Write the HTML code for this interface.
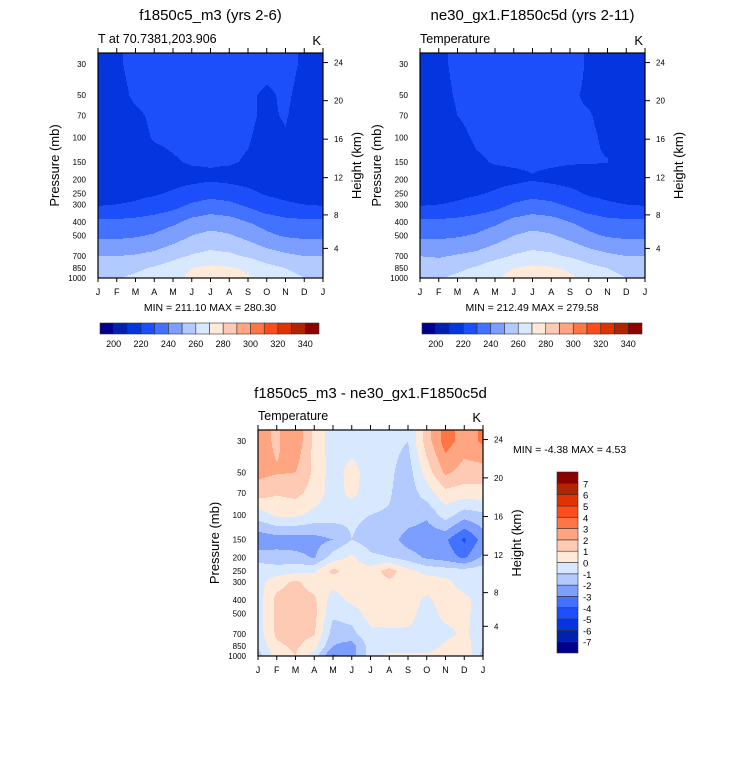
<!DOCTYPE html>
<html><head><meta charset="utf-8">
<style>
html,body{margin:0;padding:0;background:#fff;}
svg{display:block;font-family:"Liberation Sans",Arial,sans-serif;}
</style></head>
<body>
<svg id="fig" width="733" height="766" viewBox="0 0 733 766" xmlns="http://www.w3.org/2000/svg"></svg>
<script>
const months = ["J","F","M","A","M","J","J","A","S","O","N","D","J"];
const pressureLevels = [30,50,70,100,150,200,250,300,400,500,700,850,1000];
const pressureTicks = [30,50,70,100,150,200,250,300,400,500,700,850,1000];
const heightTicks = [24,20,16,12,8,4];
const tempLevels = [200,210,220,230,240,250,260,270,280,290,300,310,320,330,340];
const tempBarLabels = [200,220,240,260,280,300,320,340];
const diffLevels = [-7,-6,-5,-4,-3,-2,-1,0,1,2,3,4,5,6,7];
const palette = ["#00008c","#0020b0","#0535de","#1c4ffa","#4272ff","#7c9fff","#b2caff","#d8e9ff","#ffe9d8","#ffcab3","#ffa582","#ff7646","#ff4c1c","#e03400","#b02500","#8c0000"];

const tempModel = [
[216,219,222,223,223,224,224,224,223,222,222,219,216],
[216,218,221,222,222,222,222,222,221,219,221,218,216],
[215,217,219,221,222,222,222,222,221,219,220.5,217,215],
[214,216,218,220.5,221,221,221,221,220.5,218,219.5,216,214],
[214,215,217,218,219.5,220.5,220.5,220.5,219.5,217,216,215,214],
[213,214,215,216,217,218,219,218,217,216,215,214,213],
[217,217,218,219,221,224,226,225,222,219,218,217,217],
[219,220,221,223,226,231,234,232,228,223,221,220,219],
[232,232,233,235,238,243,245,244,240,236,233,232,232],
[238,238,239,241,245,250,253,251,247,242,239,238,238],
[250,250,251,253,257,261,263,262,259,255,252,250,250],
[256,256,258,261,265,270,272,271,268,263,260,257,256],
[259,259,262,265,268,272,278,276,271,267,263,260,259]];

const tempObs = [
[216,218,222,223,223,224,225,224,223,219,216,216,216],
[215,217,221,222,222,222,222,222,221,219,217,216,215],
[215,216,220,222,222,222,222,222,221,220.5,218,216,215],
[214,215,218,221,221.5,221.5,221.5,221.5,221,221,219,216,214],
[214,215,216,219,220.5,221,221,221,220.5,220.5,220.2,216,214],
[213,214,215,216,217,218,219.5,218,217,216,215,214,213],
[217,217,218,219,221,224,226,225,222,219,218,217,217],
[219,220,221,223,226,231,234,232,228,223,221,220,219],
[232,232,233,235,238,243,245,244,240,236,233,232,232],
[238,238,239,241,245,250,253,251,247,242,239,238,238],
[250,249,251,253,257,261,263,262,259,255,252,250,250],
[256,256,258,261,266,270,272,271,268,263,260,257,256],
[259,259,262,265,269,273,278,276,272,267,263,260,259]];

const tempDiff = [
[2.5,1.8,2.8,0.7,-0.5,-0.5,-0.6,-0.7,-1.0,1.5,3.5,2.5,3.2],
[2.3,2.1,2.0,0.8,-0.5,0.4,-0.5,-0.8,-1.5,0.5,2.2,1.6,1.5],
[1.5,1.1,1.3,0.6,-0.5,0.3,-0.6,-0.9,-1.6,-0.5,0.7,0.5,0.6],
[-0.5,0.2,0.2,-0.3,-0.5,-0.8,-1.0,-1.1,-1.4,-1.8,-0.5,-1.5,-1.2],
[-2.7,-2.5,-2.5,-2.4,-2.0,-1.0,-1.5,-1.5,-2.5,-2.7,-2.8,-4.2,-2.6],
[-1.5,-1.6,-1.7,-2.1,-0.5,0.2,-0.8,-1.0,-1.5,-2.2,-2.5,-3.2,-1.8],
[-0.3,-0.5,-0.3,-0.1,1.3,0.5,0.4,1.5,0.3,-0.3,-0.5,-0.6,-0.4],
[-0.4,0.6,1.2,0.5,0.4,0.5,0.5,0.8,0.6,0.5,0.3,-0.5,-0.5],
[-0.5,1.3,1.5,1.2,-0.5,0.3,0.5,0.6,0.5,-0.2,0.5,0.3,-0.5],
[-0.5,1.3,1.5,1.3,-0.8,-0.6,0.5,0.5,0.4,-0.5,0.3,0.3,-0.6],
[-0.5,1.2,1.4,1.1,-1.5,-1.3,-0.3,-0.2,-0.2,-0.4,-0.3,0.2,-0.6],
[-0.8,0.8,1.2,0.4,-2.0,-2.5,-0.5,-0.4,-0.3,-0.5,0.2,0.6,-1.0],
[-1.5,0.5,1.0,-0.5,-3.2,-2.5,-0.5,0.2,0.1,0.2,0.5,1.0,-1.5]];

const NS = "http://www.w3.org/2000/svg";
const svg = document.getElementById("fig");
function el(tag, attrs, parent, txt){
  const e = document.createElementNS(NS, tag);
  for (const k in attrs) e.setAttribute(k, attrs[k]);
  if (txt !== undefined) e.textContent = txt;
  (parent||svg).appendChild(e);
  return e;
}
function zToP(z){
  if (z <= 11) return 1013.25*Math.pow(1-6.5*z/288.15,5.2559);
  if (z <= 20) return 226.32*Math.exp(-(z-11)/6.3416);
  return 54.75*Math.pow(1+(z-20)/216.65,-34.163);
}
function colorIndex(v, levels){ let i=0; while(i<levels.length && v>=levels[i]) i++; return i; }

function drawPanel(cfg){
  const g = el("g",{},svg);
  
  
  const {x0,x1,y0,y1,y30,b} = cfg;
  const yOfP = p => y30 + b*Math.log(p/30);
  const xOfM = m => x0 + (x1-x0)*m/12;
  const lnL = pressureLevels.map(p=>Math.log(p));
  const field = el("g",{"shape-rendering":"crispEdges"},g);
  
  
  const data = cfg.data;
  for (let y=y0; y<y1; y++){
    let lp = Math.log(30) + (y+0.5-y30)/b;
    lp = Math.max(lnL[0], Math.min(lnL[lnL.length-1], lp));
    let k=0; while(k<lnL.length-2 && lp>lnL[k+1]) k++;
    const t = (lp-lnL[k])/(lnL[k+1]-lnL[k]);
    let runStart = x0, runC = -1;
    for (let x=x0; x<=x1; x++){
      let c = -2;
      if (x<x1){
        const m = (x+0.5-x0)/(x1-x0)*12;
        let j = Math.min(11, Math.floor(m)); const s = m-j;
        const v = (1-t)*((1-s)*data[k][j]+s*data[k][j+1]) + t*((1-s)*data[k+1][j]+s*data[k+1][j+1]);
        c = colorIndex(v, cfg.levels);
      }
      if (c!==runC){
        if (runC>=0){
          const r = el("rect",{x:runStart,y:y,width:x-runStart,height:1,fill:palette[runC]},field);
          
          
        }
        runStart = x; runC = c;
      }
    }
  }
  const fr = el("rect",{x:x0,y:y0,width:x1-x0,height:y1-y0,fill:"none",stroke:"#000","stroke-width":1.2},g);
   
  months.forEach((mn,i)=>{
    const x = xOfM(i);
    el("line",{x1:x,y1:y0,x2:x,y2:y0-5,stroke:"#000","stroke-width":1},g);
    el("line",{x1:x,y1:y1,x2:x,y2:y1+4,stroke:"#000","stroke-width":1},g);
    const t = el("text",{x:x,y:y1+17,"font-size":9,"text-anchor":"middle"},g,mn);
     
  });
  pressureTicks.forEach(p=>{
    const t = el("text",{x:x0-12,y:yOfP(p)+3,"font-size":8,"text-anchor":"end"},g,String(p));
     
  });
  heightTicks.forEach(z=>{
    const y = yOfP(zToP(z));
    el("line",{x1:x1,y1:y,x2:x1+5,y2:y,stroke:"#000","stroke-width":1},g);
    const t = el("text",{x:x1+11,y:y+3,"font-size":8},g,String(z));
     
  });
  const yl = el("text",{x:0,y:0,"font-size":13,"text-anchor":"middle",transform:`translate(${x0-39},${(y0+y1)/2}) rotate(-90)`},g,"Pressure (mb)");
   
  const hl = el("text",{x:0,y:0,"font-size":13,"text-anchor":"middle",transform:`translate(${x1+38},${(y0+y1)/2}) rotate(-90)`},g,"Height (km)");
   
  const tt = el("text",{x:(x0+x1)/2,y:cfg.titleY,"font-size":15,"text-anchor":"middle"},g,cfg.title);
   
  const st = el("text",{x:x0,y:y0-10,"font-size":12.5},g,cfg.sub);
   
  const kt = el("text",{x:x1-2,y:y0-8,"font-size":13,"text-anchor":"end"},g,"K");
   
}

drawPanel({name:"model-panel",x0:98,x1:323,y0:53,y1:278,y30:64,b:61,data:tempModel,levels:tempLevels,title:"f1850c5_m3 (yrs 2-6)",titleY:20,sub:"T at 70.7381,203.906"});
drawPanel({name:"control-panel",x0:420,x1:645,y0:53,y1:278,y30:64,b:61,data:tempObs,levels:tempLevels,title:"ne30_gx1.F1850c5d (yrs 2-11)",titleY:20,sub:"Temperature"});
drawPanel({name:"difference-panel",x0:258,x1:483,y0:430,y1:656,y30:441,b:61.3,data:tempDiff,levels:diffLevels,title:"f1850c5_m3 - ne30_gx1.F1850c5d",titleY:398,sub:"Temperature"});

function txt(x,y,s,size,name,anchor){
  const t = el("text",{x:x,y:y,"font-size":size,"text-anchor":anchor||"start"},svg,s);
   
}
txt(210,311,"MIN = 211.10 MAX = 280.30",10.5,"min-max-label","middle");
txt(532,311,"MIN = 212.49 MAX = 279.58",10.5,"min-max-label","middle");
txt(513,453,"MIN =  -4.38 MAX =   4.53",10.5,"min-max-label");

function hBar(name,x0,x1,y0,y1){
  const g = el("g",{},svg);
   
  const w = (x1-x0)/palette.length;
  palette.forEach((c,i)=>{
    const r = el("rect",{x:x0+i*w,y:y0,width:w,height:y1-y0,fill:c,stroke:"#333","stroke-width":0.6},g);
     
  });
  tempBarLabels.forEach(v=>{
    const i = tempLevels.indexOf(v)+1;
    const t = el("text",{x:x0+i*w,y:y1+13,"font-size":9,"text-anchor":"middle"},g,String(v));
     
  });
}
hBar("model-colorbar",100,319,323,334);
hBar("control-colorbar",422,642,323,334);

(function(){
  const g = el("g",{},svg);
   
  const x0=557,x1=578,y0=472,y1=653, h=(y1-y0)/palette.length;
  palette.forEach((c,i)=>{
    const r = el("rect",{x:x0,y:y1-(i+1)*h,width:x1-x0,height:h,fill:c,stroke:"#333","stroke-width":0.6},g);
     
  });
  diffLevels.forEach((v,i)=>{
    const t = el("text",{x:583,y:y1-(i+1)*h+4,"font-size":9.5},g,String(v));
     
  });
})();
</script>
</body></html>
